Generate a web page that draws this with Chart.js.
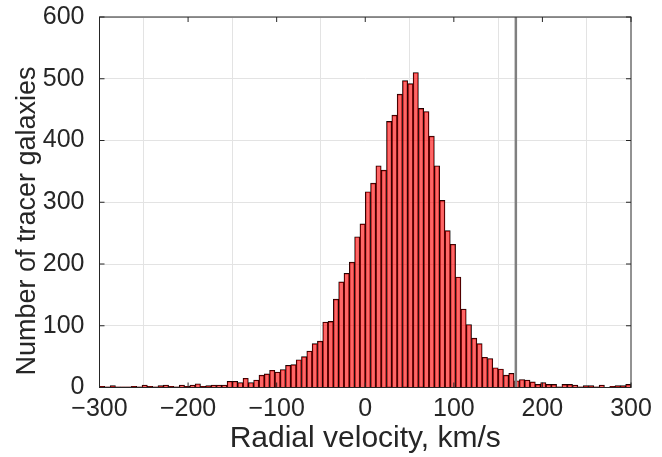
<!DOCTYPE html>
<html>
<head>
<meta charset="utf-8">
<script src="https://cdn.jsdelivr.net/npm/chart.js@4/dist/chart.umd.min.js"></script>
<style>
  html, body { margin: 0; padding: 0; background: #fff; }
  #wrap { width: 662px; height: 457px; }
</style>
</head>
<body>
<div id="wrap"><canvas id="velocityChart"></canvas></div>
<script>
// Histogram bins: 6 km/s wide, from -300 to 300
const binStart = -300;
const binWidth = 6;

// Counts per bin (left to right)
const countsLeftTail = [2, 1, 3, 1, 1, 1, 2, 1, 4, 2, 1, 3, 4, 2, 1, 4, 2, 4, 6, 2, 3, 4, 4, 4, 10, 10, 8, 15, 8, 12, 20, 22, 28];
const countsRise = [25, 29, 36, 37, 45, 50, 59, 71, 75, 106, 107, 143, 171, 185, 203, 244, 265];
const countsPeak = [317, 331, 359, 352, 431, 441, 475, 497, 492, 510, 452, 447, 407, 359, 303, 254, 232, 179, 127, 102];
const countsRightTail = [80, 71, 49, 47, 32, 30, 20, 23, 11, 13, 12, 9, 5, 8, 5, 5, 1, 5, 5, 4, 1, 3, 3, 1, 4, 0, 2, 3, 3, 5];

// Vertical marker line (km/s)
const cutVelocity = 170;

// Axis ticks and titles
const xTicks = [-300, -200, -100, 0, 100, 200, 300];
const yTicks = [0, 100, 200, 300, 400, 500, 600];
const xTitle = 'Radial velocity, km/s';
const yTitle = 'Number of tracer galaxies';

const counts = [...countsLeftTail, ...countsRise, ...countsPeak, ...countsRightTail];
const binCenters = counts.map((_, i) => binStart + binWidth * (i + 0.5));
const histPoints = counts.map((c, i) => ({ x: binCenters[i], y: c }));

const axisColor = '#262626';
const gridColor = '#e3e3e3';
const fontFamily = '"Liberation Sans", Arial, Helvetica, sans-serif';

// Box around the axes plus inward tick marks (MATLAB look)
const boxPlugin = {
    id: 'boxPlugin',
    afterDraw(chart) {
        const { ctx, chartArea: a, scales } = chart;
        ctx.save();
        ctx.strokeStyle = axisColor;
        ctx.lineWidth = 1;
        ctx.strokeRect(a.left, a.top, a.right - a.left, a.bottom - a.top);
        const len = 5;
        ctx.beginPath();
        xTicks.forEach(v => {
            const px = scales.x.getPixelForValue(v);
            ctx.moveTo(px, a.bottom); ctx.lineTo(px, a.bottom - len);
            ctx.moveTo(px, a.top); ctx.lineTo(px, a.top + len);
        });
        yTicks.forEach(v => {
            const py = scales.y.getPixelForValue(v);
            ctx.moveTo(a.left, py); ctx.lineTo(a.left + len, py);
            ctx.moveTo(a.right, py); ctx.lineTo(a.right - len, py);
        });
        ctx.stroke();

        // y title sits a little below the middle of the axis in the original
        ctx.translate(35, 221);
        ctx.rotate(-Math.PI / 2);
        ctx.fillStyle = axisColor;
        ctx.font = '27px ' + fontFamily;
        ctx.textAlign = 'center';
        ctx.textBaseline = 'alphabetic';
        ctx.fillText(yTitle, 0, 0);
        ctx.restore();
    }
};

// MATLAB style minus sign in the tick labels
const withMinus = v => String(v).replace('-', '\u2212');

const velocityConfig = {
    type: 'bar',
    data: {
        datasets: [{
            type: 'bar',
            data: histPoints,
            backgroundColor: 'rgba(255, 0, 0, 0.6)',
            borderColor: '#000000',
            borderWidth: 0.7,
            borderSkipped: 'start',
            barPercentage: 1,
            categoryPercentage: 1,
            order: 1
        }, {
            type: 'line',
            data: [{ x: cutVelocity, y: 0 }, { x: cutVelocity, y: 600 }],
            borderColor: '#808080',
            borderWidth: 2.5,
            pointRadius: 0,
            order: 0
        }]
    },
    options: {
        responsive: false,
        animation: false,
        layout: { padding: { left: 0, right: 31, top: 17, bottom: 0 } },
        scales: {
            x: {
                type: 'linear',
                min: -300,
                max: 300,
                offset: false,
                afterFit(scale) { scale.height = 69.5; },
                afterBuildTicks(scale) { scale.ticks = xTicks.map(v => ({ value: v })); },
                grid: { color: gridColor, drawTicks: false },
                border: { display: false },
                ticks: {
                    padding: 7,
                    color: axisColor,
                    maxRotation: 0,
                    callback: withMinus,
                    font: { family: fontFamily, size: 25 }
                },
                title: {
                    display: true,
                    text: xTitle,
                    color: axisColor,
                    padding: { top: 0, bottom: 0 },
                    font: { family: fontFamily, size: 30 }
                }
            },
            y: {
                min: 0,
                max: 600,
                afterFit(scale) { scale.width = 99.5; },
                afterBuildTicks(scale) { scale.ticks = yTicks.map(v => ({ value: v })); },
                grid: { color: gridColor, drawTicks: true, tickLength: 14, tickColor: 'rgba(0,0,0,0)' },
                border: { display: false },
                ticks: {
                    padding: 1,
                    color: axisColor,
                    font: { family: fontFamily, size: 25 }
                },
                title: { display: false }
            }
        },
        plugins: {
            legend: { display: false },
            tooltip: { enabled: false }
        }
    },
    plugins: [boxPlugin]
};

const canvas = document.getElementById('velocityChart');
canvas.width = 662;
canvas.height = 457;
const velocityChart = new Chart(canvas, velocityConfig);
</script>
</body>
</html>
